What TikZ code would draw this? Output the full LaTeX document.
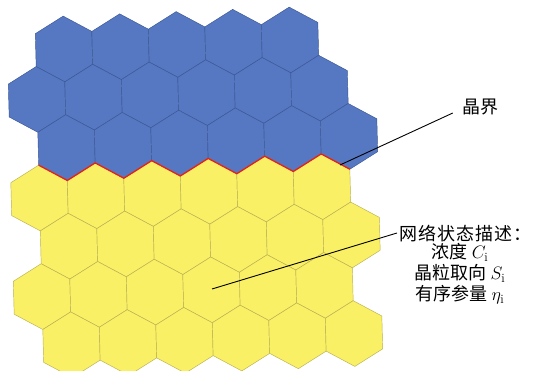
\RequirePackage{fix-cm}
\documentclass[tikz,border=0pt]{standalone}
\usepackage{fontspec}
\newfontfamily\cjk{Noto Sans CJK SC}
\newfontfamily\cjkwide[LetterSpace=6]{Noto Sans CJK SC}
\definecolor{hexblue}{RGB}{86,120,194}
\definecolor{hexblueedge}{RGB}{58,86,148}
\definecolor{hexyellow}{RGB}{250,240,102}
\definecolor{hexyellowedge}{RGB}{185,176,80}
\definecolor{gbred}{RGB}{228,32,28}
\tikzset{
  bluehex/.style={fill=hexblue, draw=hexblueedge, line width=0.45pt, line join=round},
  yelhex/.style={fill=hexyellow, draw=hexyellowedge, line width=0.45pt, line join=round},
  gbline/.style={draw=gbred, line width=1.3pt, line join=round},
  leader/.style={draw=black, line width=0.9pt},
  lbl/.style={inner sep=0pt, font=\fontsize{18}{21}\selectfont, text=black}
}
\begin{document}
\begin{tikzpicture}[x=1pt,y=1pt]
\useasboundingbox (0,0) rectangle (533,-371);
\clip (0,0) rectangle (533,-371);
\fill[white] (0,0) rectangle (533,-371);
\begin{scope}[shift={(64pt,-49pt)}, x={(56.5pt,2.25pt)}, y={(1.25pt,-49.3pt)}]
  \foreach \j/\st/\n/\off in {0/bluehex/4/0, 1/bluehex/5/0.5, 2/bluehex/5/0, 3/yelhex/5/0.5, 4/yelhex/5/0, 5/yelhex/5/0.5, 6/yelhex/5/0}{
    \foreach \i in {0,...,\n}{
      \pgfmathsetmacro\p{\i-\off}
      \path[\st] (\p,\j-2/3) -- (\p+0.5,\j-1/3) -- (\p+0.5,\j+1/3) -- (\p,\j+2/3) -- (\p-0.5,\j+1/3) -- (\p-0.5,\j-1/3) -- cycle;
    }
  }
  \draw[gbline] (-0.5,2+1/3) -- (0,2+2/3) -- (0.5,2+1/3) -- (1,2+2/3) -- (1.5,2+1/3) -- (2,2+2/3) -- (2.5,2+1/3) -- (3,2+2/3) -- (3.5,2+1/3) -- (4,2+2/3) -- (4.5,2+1/3) -- (5,2+2/3);
\end{scope}
\node[lbl] (gb) at (480,-107) {\cjk 晶界};
\coordinate (gbp) at (340,-165);
\draw[leader] (gbp) -- ([xshift=-9pt,yshift=-6pt]gb.west);
\node[lbl, anchor=west] (d1) at (399,-234) {\cjkwide 网络状态描述：};
\node[lbl, align=center] (d2) at (460,-274) {\cjk 浓度 $C_{\mathrm{i}}$\\ \cjk 晶粒取向 $S_{\mathrm{i}}$\\ \cjk 有序参量 $\eta_{\mathrm{i}}$};
\coordinate (grain) at (212,-289);
\draw[leader] (grain) -- ([xshift=-2pt,yshift=1pt]d1.west);
\end{tikzpicture}
\end{document}
